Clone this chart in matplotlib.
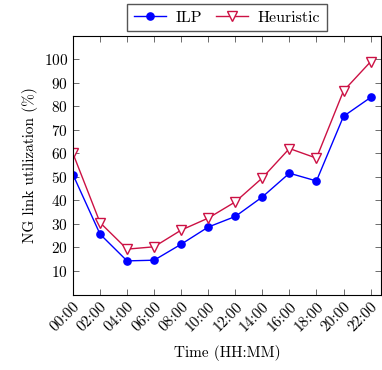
import matplotlib
matplotlib.use("Agg")
import matplotlib.pyplot as plt

plt.rcParams.update({"font.family": "cmr10", "mathtext.fontset": "cm",
                     "axes.formatter.use_mathtext": True, "font.size": 11})

HOURS = ["00:00", "02:00", "04:00", "06:00", "08:00", "10:00",
         "12:00", "14:00", "16:00", "18:00", "20:00", "22:00"]
ILP = [51.0, 25.7, 14.3, 14.6, 21.4, 28.7, 33.2, 41.5, 51.6, 48.3, 75.8, 83.8]
HEURISTIC = [60.0, 30.6, 19.3, 20.3, 27.4, 32.5, 39.4, 49.6, 62.1, 58.0, 86.6, 99.0]

fig = plt.figure(figsize=(3.82, 3.70), dpi=100)
ax = fig.add_axes([0.191, 0.204, 0.806, 0.699])
xs = list(range(len(HOURS)))
ax.plot(xs, ILP, color="#0000FF", lw=1, marker="o", ms=5.2, label="ILP")
ax.plot(xs, HEURISTIC, color="#CC1144", lw=1, marker="v", ms=6.5,
        mfc="white", mec="#CC1144", mew=1, label="Heuristic")

ax.set_xlim(0, 11.38)
ax.set_ylim(0, 110)
ax.set_xticks(xs)
ax.set_xticklabels(HOURS, rotation=45, ha="right", rotation_mode="anchor")
ax.set_yticks(range(10, 101, 10))
ax.tick_params(direction="in", top=True, right=True, length=4, width=0.6, color="#555555")
ax.set_xlabel("Time (HH:MM)", labelpad=8)
ax.set_ylabel("NG link utilization (%)")
ax.legend(loc="lower center", bbox_to_anchor=(0.5, 1.0), ncol=2, fancybox=False,
          edgecolor="#555555", framealpha=1, borderpad=0.4, handlelength=2,
          columnspacing=0.9, handletextpad=0.6, fontsize=11.5, borderaxespad=0.3)

fig.savefig("out.png", dpi=100)
